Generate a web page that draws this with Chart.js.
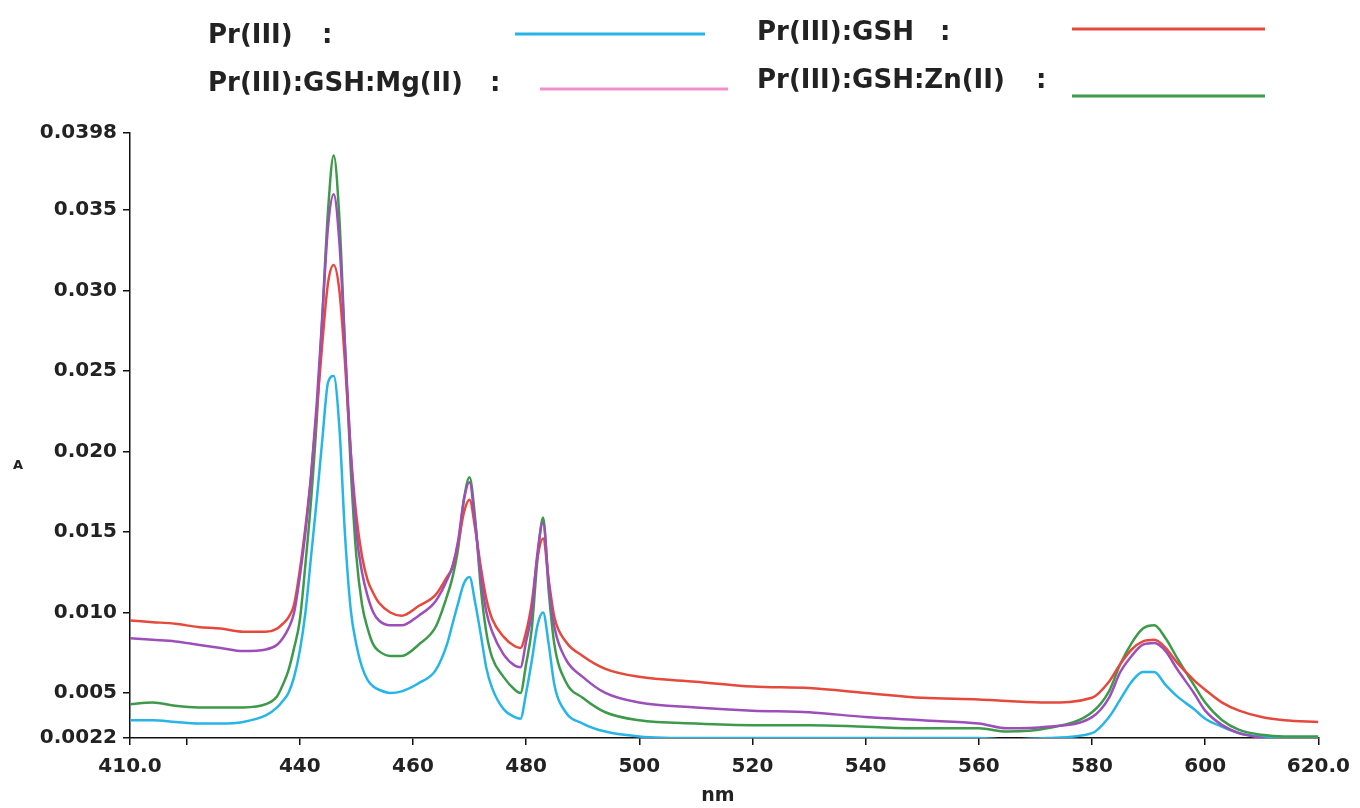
<!DOCTYPE html>
<html>
<head>
<meta charset="utf-8">
<script src="https://cdn.jsdelivr.net/npm/chart.js@4.4.1/dist/chart.umd.min.js"></script>
<style>
  body { margin: 0; background: #fff; }
  .chart-container { width: 1360px; height: 808px; }
</style>
</head>
<body>
<div class="chart-container">
  <canvas id="chart"></canvas>
</div>
<script>
// wavelengths (nm)
const wavelengths = [410, 414, 418, 422, 426, 430, 434, 436, 437, 438, 439, 440, 441, 442, 443, 444, 445, 446, 447, 448, 449, 450, 451, 452, 453, 454, 456, 458, 461, 464, 466, 467, 468, 469, 470, 471, 472, 473, 474, 476, 478, 479, 480, 481, 482, 483, 484, 485, 487, 490, 494, 500, 510, 520, 530, 540, 550, 560, 565, 572, 580, 583, 585, 587, 589, 591, 593, 595, 598, 600, 603, 606, 610, 614, 620];

// absorbance per series
const prIII = [0.0033, 0.0033, 0.0032, 0.0031, 0.0031, 0.0032, 0.0036, 0.0041, 0.0045, 0.0050, 0.0060, 0.0076, 0.0100, 0.0135, 0.0170, 0.0208, 0.0243, 0.0247, 0.0215, 0.0148, 0.0102, 0.0080, 0.0066, 0.0058, 0.0054, 0.0052, 0.0050, 0.0051, 0.0056, 0.0064, 0.0080, 0.0093, 0.0106, 0.0118, 0.0122, 0.0106, 0.0086, 0.0065, 0.0053, 0.0040, 0.0035, 0.0034, 0.0050, 0.0070, 0.0092, 0.0100, 0.0080, 0.0055, 0.0038, 0.0031, 0.0026, 0.0023, 0.0022, 0.0022, 0.0022, 0.0022, 0.0022, 0.0022, 0.0021, 0.0022, 0.0025, 0.0035, 0.0046, 0.0057, 0.0063, 0.0063, 0.0055, 0.0048, 0.0040, 0.0034, 0.0029, 0.0025, 0.0023, 0.0022, 0.0022];
const prGSH = [0.0095, 0.0094, 0.0093, 0.0091, 0.0090, 0.0088, 0.0088, 0.0090, 0.0093, 0.0097, 0.0105, 0.0126, 0.0153, 0.0185, 0.0225, 0.0268, 0.0305, 0.0316, 0.0300, 0.0255, 0.0200, 0.0160, 0.0135, 0.0120, 0.0112, 0.0106, 0.0100, 0.0098, 0.0104, 0.0111, 0.0122, 0.0128, 0.0143, 0.0162, 0.0170, 0.0152, 0.0128, 0.0108, 0.0096, 0.0085, 0.0079, 0.0078, 0.0088, 0.0106, 0.0134, 0.0146, 0.0120, 0.0097, 0.0082, 0.0073, 0.0065, 0.0060, 0.0057, 0.0054, 0.0053, 0.0050, 0.0047, 0.0046, 0.0045, 0.0044, 0.0047, 0.0057, 0.0068, 0.0077, 0.0082, 0.0083, 0.0078, 0.0069, 0.0058, 0.0052, 0.0044, 0.0039, 0.0035, 0.0033, 0.0032];
const prGSHMg = [0.0084, 0.0083, 0.0082, 0.0080, 0.0078, 0.0076, 0.0077, 0.0080, 0.0084, 0.0090, 0.0100, 0.0122, 0.0150, 0.0185, 0.0230, 0.0285, 0.0340, 0.0360, 0.0330, 0.0265, 0.0200, 0.0150, 0.0125, 0.0110, 0.0100, 0.0095, 0.0092, 0.0092, 0.0098, 0.0107, 0.0120, 0.0129, 0.0145, 0.0170, 0.0181, 0.0155, 0.0122, 0.0100, 0.0088, 0.0074, 0.0067, 0.0066, 0.0082, 0.0100, 0.0137, 0.0156, 0.0118, 0.0091, 0.0071, 0.0060, 0.0050, 0.0044, 0.0041, 0.0039, 0.0038, 0.0035, 0.0033, 0.0031, 0.0028, 0.0029, 0.0035, 0.0047, 0.0063, 0.0073, 0.0080, 0.0081, 0.0076, 0.0065, 0.0050, 0.0039, 0.0030, 0.0025, 0.0022, 0.0019, 0.0019];
const prGSHZn = [0.0043, 0.0044, 0.0042, 0.0041, 0.0041, 0.0041, 0.0043, 0.0048, 0.0055, 0.0064, 0.0078, 0.0095, 0.0130, 0.0170, 0.0220, 0.0285, 0.0350, 0.0384, 0.0345, 0.0265, 0.0190, 0.0135, 0.0105, 0.0090, 0.0080, 0.0076, 0.0073, 0.0073, 0.0080, 0.0091, 0.0110, 0.0122, 0.0140, 0.0170, 0.0184, 0.0158, 0.0115, 0.0087, 0.0072, 0.0060, 0.0052, 0.0050, 0.0068, 0.0090, 0.0133, 0.0159, 0.0113, 0.0080, 0.0057, 0.0047, 0.0038, 0.0033, 0.0031, 0.0030, 0.0030, 0.0029, 0.0028, 0.0028, 0.0026, 0.0028, 0.0038, 0.0051, 0.0068, 0.0081, 0.0090, 0.0092, 0.0084, 0.0072, 0.0055, 0.0044, 0.0033, 0.0027, 0.0024, 0.0023, 0.0023];

// axis ticks
const xTickValues = [410, 420, 440, 460, 480, 500, 520, 540, 560, 580, 600, 620];
const xTickLabels = ['410.0', '', '440', '460', '480', '500', '520', '540', '560', '580', '600', '620.0'];
const yTickValues = [0.0022, 0.005, 0.010, 0.015, 0.020, 0.025, 0.030, 0.035, 0.0398];
const yTickLabels = ['0.0022', '0.005', '0.010', '0.015', '0.020', '0.025', '0.030', '0.035', '0.0398'];

// legend
const legendLabels = ['Pr(III)', 'Pr(III):GSH', 'Pr(III):GSH:Mg(II)', 'Pr(III):GSH:Zn(II)'];
const legendColors = ['#27b4e6', '#e5493c', '#f28fcb', '#3d9a4b'];

const toPoints = (ys) => wavelengths.map((x, i) => ({ x: x, y: ys[i] }));

const tickFont = { family: 'DejaVu Sans', size: 20, weight: 'bold' };

const legendPlugin = {
  id: 'spectrumLegend',
  afterDraw(chart) {
    const ctx = chart.ctx;
    const spots = [
      { tx: 208, ty: 36, cx: 322, lx1: 515, lx2: 705, ly: 34 },
      { tx: 757, ty: 33, cx: 940, lx1: 1072, lx2: 1265, ly: 29 },
      { tx: 208, ty: 84, cx: 490, lx1: 540, lx2: 728, ly: 89 },
      { tx: 757, ty: 81, cx: 1036, lx1: 1072, lx2: 1265, ly: 96 },
    ];
    ctx.save();
    ctx.font = 'bold 26px "DejaVu Sans"';
    ctx.fillStyle = '#222';
    ctx.textBaseline = 'middle';
    spots.forEach((s, i) => {
      ctx.fillText(legendLabels[i], s.tx, s.ty);
      ctx.fillText(':', s.cx, s.ty);
      ctx.strokeStyle = legendColors[i];
      ctx.lineWidth = 3;
      ctx.beginPath();
      ctx.moveTo(s.lx1, s.ly);
      ctx.lineTo(s.lx2, s.ly);
      ctx.stroke();
    });
    // axis titles
    ctx.font = 'bold 13px "DejaVu Sans"';
    ctx.textAlign = 'center';
    ctx.fillText('A', 18, 466);
    ctx.font = 'bold 19px "DejaVu Sans"';
    ctx.fillText('nm', 718, 796);
    ctx.restore();
  }
};

const ctx = document.getElementById('chart').getContext('2d');
const chart = new Chart(ctx, {
  type: 'line',
  data: {
    datasets: [
      { label: legendLabels[2], data: toPoints(prGSHMg), borderColor: '#9c4fb9' },
      { label: legendLabels[1], data: toPoints(prGSH), borderColor: '#e5493c' },
      { label: legendLabels[3], data: toPoints(prGSHZn), borderColor: '#3d9a4b' },
      { label: legendLabels[0], data: toPoints(prIII), borderColor: '#27b4e6' },
    ],
  },
  options: {
    responsive: true,
    maintainAspectRatio: false,
    animation: false,
    layout: { padding: { top: 133, right: 35, left: 0, bottom: 0 } },
    elements: {
      point: { radius: 0 },
      line: { borderWidth: 2.5, cubicInterpolationMode: 'monotone', fill: false },
    },
    plugins: {
      legend: { display: false },
      tooltip: { enabled: false },
    },
    scales: {
      x: {
        type: 'linear',
        min: 410,
        max: 620,
        afterFit: (scale) => { scale.height = 70; },
        afterBuildTicks: (scale) => { scale.ticks = xTickValues.map(v => ({ value: v })); },
        border: { display: true, color: '#111', width: 1.5 },
        grid: { display: true, drawOnChartArea: false, drawTicks: true, tickLength: 7, color: '#111', lineWidth: 1.5 },
        ticks: {
          autoSkip: false,
          maxRotation: 0,
          padding: 10,
          color: '#222',
          font: tickFont,
          callback: (value, index) => xTickLabels[index],
        },
      },
      y: {
        type: 'linear',
        min: 0.0022,
        max: 0.0398,
        afterFit: (scale) => { scale.width = 130; },
        afterBuildTicks: (scale) => { scale.ticks = yTickValues.map(v => ({ value: v })); },
        border: { display: true, color: '#111', width: 1.5 },
        grid: { display: true, drawOnChartArea: false, drawTicks: true, tickLength: 7, color: '#111', lineWidth: 1.5 },
        ticks: {
          autoSkip: false,
          padding: 6,
          color: '#222',
          font: tickFont,
          callback: (value, index) => yTickLabels[index],
        },
      },
    },
  },
  plugins: [legendPlugin],
});
</script>
</body>
</html>
